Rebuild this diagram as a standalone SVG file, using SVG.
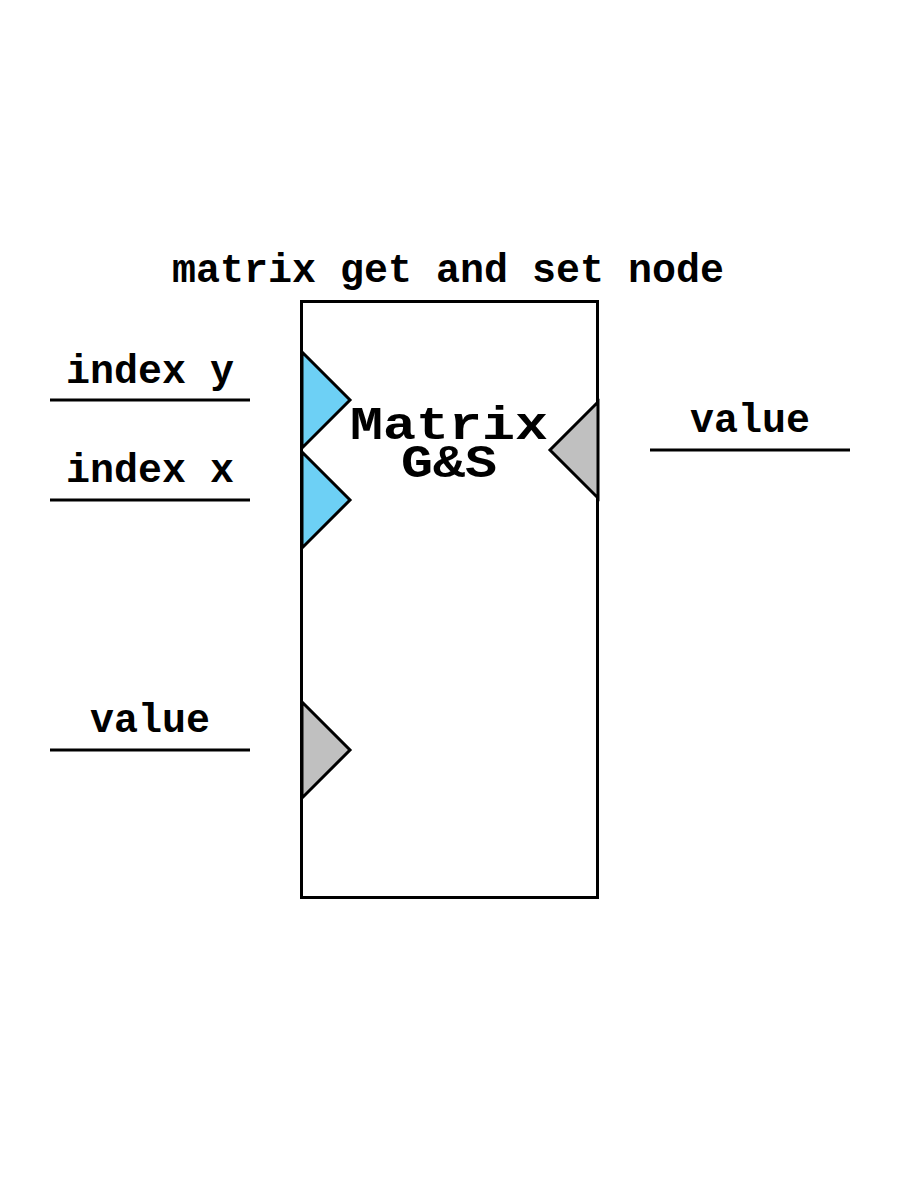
<svg xmlns="http://www.w3.org/2000/svg" width="900" height="1200" viewBox="0 0 900 1200">
<style>
.t{font-family:"Liberation Mono","Courier New",monospace;font-weight:bold;fill:#000;text-anchor:middle}
.lbl{font-size:40px}
.ln{stroke:#000;stroke-width:3}
.box{fill:#fff;stroke:#000;stroke-width:3}
.blue{fill:#6dd0f5;stroke:#000;stroke-width:3;stroke-linejoin:miter}
.grey{fill:#c0c0c0;stroke:#000;stroke-width:3;stroke-linejoin:miter}
</style>
<rect width="900" height="1200" fill="#fff"/>
<text class="t lbl" x="448" y="282">matrix get and set node</text>
<g id="node">
<rect class="box" x="301.5" y="301.5" width="296" height="596"/>
<polygon class="blue" points="302,352 350,400 302,448"/>
<polygon class="blue" points="302,452 350,500 302,548"/>
<polygon class="grey" points="302,702 350,750 302,798"/>
<polygon class="grey" points="598,402 550,450 598,498"/>
<text class="t" x="449" y="439" font-size="46" textLength="198" lengthAdjust="spacingAndGlyphs">Matrix</text>
<text class="t" x="449" y="477" font-size="46" textLength="96" lengthAdjust="spacingAndGlyphs">G&amp;S</text>
</g>
<g id="connectors">
<line class="ln" x1="50" y1="400" x2="250" y2="400"/>
<line class="ln" x1="50" y1="500" x2="250" y2="500"/>
<line class="ln" x1="50" y1="750" x2="250" y2="750"/>
<line class="ln" x1="650" y1="450" x2="850" y2="450"/>
</g>
<g id="labels">
<text class="t lbl" x="150" y="383">index y</text>
<text class="t lbl" x="150" y="482">index x</text>
<text class="t lbl" x="150" y="732">value</text>
<text class="t lbl" x="750" y="432">value</text>
</g>
</svg>
